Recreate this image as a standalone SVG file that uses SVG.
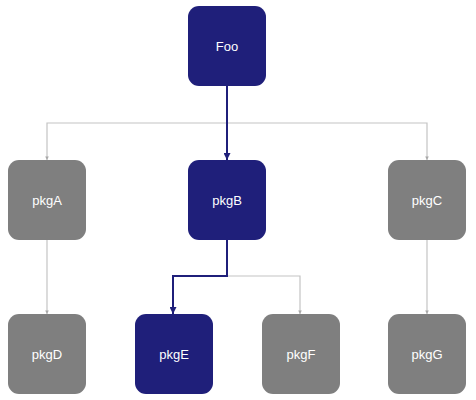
<svg xmlns="http://www.w3.org/2000/svg" width="476" height="400" viewBox="0 0 476 400">
<style>
.n rect{rx:11;ry:11}
.navy rect{fill:#1f1f7a}
.gray rect{fill:#7f7f7f}
.n text{fill:#fff;font-family:"Liberation Sans",Arial,sans-serif;font-size:13px;text-anchor:middle;dominant-baseline:central}
.g{fill:none;stroke:#c4c4c4;stroke-width:1.2}
.b{fill:none;stroke:#1f1f7a;stroke-width:2}
</style>
<defs>
<marker id="ab" viewBox="0 0 10 10" refX="10" refY="5" markerWidth="3.5" markerHeight="3.5" orient="auto" markerUnits="strokeWidth"><path d="M0,0L10,5L0,10z" fill="#1f1f7a"/></marker>
<marker id="ag" viewBox="0 0 10 10" refX="10" refY="5" markerWidth="3" markerHeight="3" orient="auto" markerUnits="strokeWidth"><path d="M0,0L10,5L0,10z" fill="#a8a8a8"/></marker>
</defs>
<g id="connectors">
<path class="g" d="M227,123H47V160" marker-end="url(#ag)"/>
<path class="g" d="M227,123H427V160" marker-end="url(#ag)"/>
<path class="g" d="M47,240V314" marker-end="url(#ag)"/>
<path class="g" d="M427,240V314" marker-end="url(#ag)"/>
<path class="g" d="M227,276H300V314" marker-end="url(#ag)"/>
<path class="b" d="M227,86V160" marker-end="url(#ab)"/>
<path class="b" d="M227,240V276H173V314" marker-end="url(#ab)"/>
</g>
<g id="Foo" class="n navy"><rect x="188" y="6" width="78" height="80"/><text x="227" y="46">Foo</text></g>
<g id="pkgA" class="n gray"><rect x="8" y="160" width="78" height="80"/><text x="47" y="200">pkgA</text></g>
<g id="pkgB" class="n navy"><rect x="188" y="160" width="78" height="80"/><text x="227" y="200">pkgB</text></g>
<g id="pkgC" class="n gray"><rect x="388" y="160" width="78" height="80"/><text x="427" y="200">pkgC</text></g>
<g id="pkgD" class="n gray"><rect x="8" y="314" width="78" height="80"/><text x="47" y="354">pkgD</text></g>
<g id="pkgE" class="n navy"><rect x="135" y="314" width="78" height="80"/><text x="174" y="354">pkgE</text></g>
<g id="pkgF" class="n gray"><rect x="262" y="314" width="78" height="80"/><text x="301" y="354">pkgF</text></g>
<g id="pkgG" class="n gray"><rect x="388" y="314" width="78" height="80"/><text x="427" y="354">pkgG</text></g>
</svg>
